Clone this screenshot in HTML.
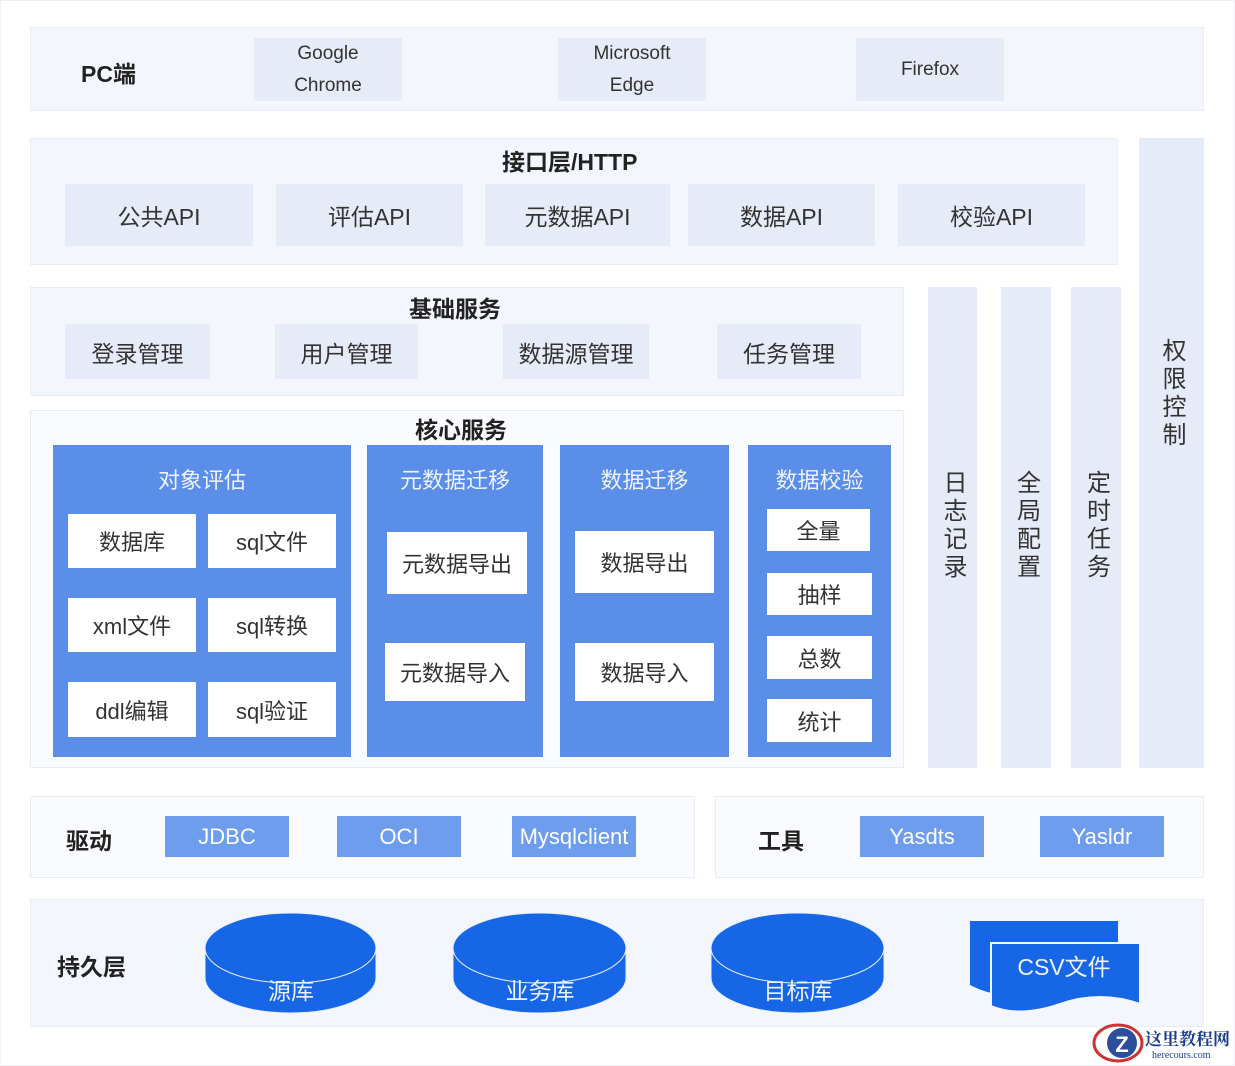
<!DOCTYPE html>
<html><head><meta charset="utf-8">
<style>
body{margin:0;width:1235px;height:1066px;background:#fff;position:relative;overflow:hidden;font-family:"Liberation Sans","Noto Sans CJK SC",sans-serif;color:#333}
.b{position:absolute;display:flex;align-items:center;justify-content:center;text-align:center;box-sizing:border-box}
.sec{background:#f3f6fc;border:1px solid #e8ecf5}
.g{background:#e6ebf8;font-size:23px;color:#333}
.bl{background:#5b8ee8;color:#eef3ff;font-size:22px;align-items:flex-start;padding-top:18px}
.w{background:#fff;font-size:22px;color:#333}
.d{background:#6e9ded;color:#fff;font-size:22px}
.t{position:absolute;font-weight:bold;font-size:23px;color:#222}
.v{writing-mode:vertical-rl;text-orientation:upright;letter-spacing:4px;font-size:24px}
</style></head><body>
<div class="b" style="left:0;top:0;width:1235px;height:1066px;border:1px solid #f0eef3"></div>
<!-- PC -->
<div class="b sec" style="left:30px;top:27px;width:1174px;height:84px"></div>
<div class="t" style="left:81px;top:55px">PC端</div>
<div class="b g" style="left:254px;top:38px;width:148px;height:63px;font-size:19px;line-height:32px">Google<br>Chrome</div>
<div class="b g" style="left:558px;top:38px;width:148px;height:63px;font-size:19px;line-height:32px">Microsoft<br>Edge</div>
<div class="b g" style="left:856px;top:38px;width:148px;height:63px;font-size:19px">Firefox</div>
<!-- interface -->
<div class="b sec" style="left:30px;top:138px;width:1088px;height:127px"></div>
<div class="t" style="left:502px;top:143px">接口层/HTTP</div>
<div class="b g" style="left:65px;top:184px;width:188px;height:62px">公共API</div>
<div class="b g" style="left:276px;top:184px;width:187px;height:62px">评估API</div>
<div class="b g" style="left:485px;top:184px;width:185px;height:62px">元数据API</div>
<div class="b g" style="left:688px;top:184px;width:187px;height:62px">数据API</div>
<div class="b g" style="left:898px;top:184px;width:187px;height:62px">校验API</div>
<!-- right columns -->
<div class="b g" style="left:1139px;top:138px;width:65px;height:630px;align-items:flex-start;padding-top:200px"><span class="v">权限控制</span></div>
<div class="b g" style="left:928px;top:287px;width:49px;height:481px;align-items:flex-start;padding-top:183px"><span class="v">日志记录</span></div>
<div class="b g" style="left:1001px;top:287px;width:50px;height:481px;align-items:flex-start;padding-top:183px"><span class="v">全局配置</span></div>
<div class="b g" style="left:1071px;top:287px;width:50px;height:481px;align-items:flex-start;padding-top:183px"><span class="v">定时任务</span></div>
<!-- base -->
<div class="b sec" style="left:30px;top:287px;width:874px;height:109px"></div>
<div class="t" style="left:409px;top:290px">基础服务</div>
<div class="b g" style="left:65px;top:324px;width:145px;height:55px">登录管理</div>
<div class="b g" style="left:275px;top:324px;width:143px;height:55px">用户管理</div>
<div class="b g" style="left:503px;top:324px;width:146px;height:55px">数据源管理</div>
<div class="b g" style="left:717px;top:324px;width:144px;height:55px">任务管理</div>
<!-- core -->
<div class="b sec" style="left:30px;top:410px;width:874px;height:358px;background:#fafbfe"></div>
<div class="t" style="left:415px;top:411px">核心服务</div>
<div class="b bl" style="left:53px;top:445px;width:298px;height:312px">对象评估</div>
<div class="b w" style="left:68px;top:514px;width:128px;height:54px">数据库</div>
<div class="b w" style="left:208px;top:514px;width:128px;height:54px">sql文件</div>
<div class="b w" style="left:68px;top:598px;width:128px;height:54px">xml文件</div>
<div class="b w" style="left:208px;top:598px;width:128px;height:54px">sql转换</div>
<div class="b w" style="left:68px;top:682px;width:128px;height:55px">ddl编辑</div>
<div class="b w" style="left:208px;top:682px;width:128px;height:55px">sql验证</div>
<div class="b bl" style="left:367px;top:445px;width:176px;height:312px">元数据迁移</div>
<div class="b w" style="left:387px;top:532px;width:140px;height:62px">元数据导出</div>
<div class="b w" style="left:385px;top:643px;width:140px;height:58px">元数据导入</div>
<div class="b bl" style="left:560px;top:445px;width:169px;height:312px">数据迁移</div>
<div class="b w" style="left:575px;top:531px;width:139px;height:62px">数据导出</div>
<div class="b w" style="left:575px;top:643px;width:139px;height:58px">数据导入</div>
<div class="b bl" style="left:748px;top:445px;width:143px;height:312px">数据校验</div>
<div class="b w" style="left:767px;top:509px;width:103px;height:42px">全量</div>
<div class="b w" style="left:767px;top:573px;width:105px;height:42px">抽样</div>
<div class="b w" style="left:767px;top:636px;width:105px;height:43px">总数</div>
<div class="b w" style="left:767px;top:699px;width:105px;height:43px">统计</div>
<!-- drivers -->
<div class="b sec" style="left:30px;top:796px;width:665px;height:82px;background:#fafbfe"></div>
<div class="t" style="left:66px;top:822px">驱动</div>
<div class="b d" style="left:165px;top:816px;width:124px;height:41px">JDBC</div>
<div class="b d" style="left:337px;top:816px;width:124px;height:41px">OCI</div>
<div class="b d" style="left:512px;top:816px;width:124px;height:41px">Mysqlclient</div>
<div class="b sec" style="left:715px;top:796px;width:489px;height:82px;background:#fafbfe"></div>
<div class="t" style="left:758px;top:822px">工具</div>
<div class="b d" style="left:860px;top:816px;width:124px;height:41px">Yasdts</div>
<div class="b d" style="left:1040px;top:816px;width:124px;height:41px">Yasldr</div>
<!-- persistence -->
<div class="b sec" style="left:30px;top:899px;width:1174px;height:128px"></div>
<div class="t" style="left:57px;top:948px">持久层</div>
<svg style="position:absolute;left:0;top:0" width="1235" height="1066">
<g fill="#1766e6" stroke="#e8efff" stroke-width="1">
<path d="M205 948 A85.5 35 0 0 1 376 948 L376 978 A85.5 35 0 0 1 205 978 Z"/>
<path d="M205 948 A85.5 35 0 0 0 376 948" fill="none"/>
<path d="M453 948 A86.5 35 0 0 1 626 948 L626 978 A86.5 35 0 0 1 453 978 Z"/>
<path d="M453 948 A86.5 35 0 0 0 626 948" fill="none"/>
<path d="M711 948 A86.5 35 0 0 1 884 948 L884 978 A86.5 35 0 0 1 711 978 Z"/>
<path d="M711 948 A86.5 35 0 0 0 884 948" fill="none"/>
</g>
<path d="M970 921 L1118 921 L1118 985 Q1080 975 1044 990 Q1005 1003 970 985 Z" fill="#1766e6"/>
<path d="M991 943 L1140 943 L1140 1004 Q1100 990 1060 1004 Q1020 1018 991 1006 Z" fill="#1766e6" stroke="#f3f6fc" stroke-width="2"/>
<g font-family="Liberation Sans, Noto Sans CJK SC, sans-serif" font-size="23" fill="#eef3ff" text-anchor="middle">
<text x="291" y="999">源库</text>
<text x="540" y="999">业务库</text>
<text x="798" y="999">目标库</text>
<text x="1064" y="975">CSV文件</text>
</g>
<g>
<ellipse cx="1118" cy="1043" rx="24" ry="18" fill="none" stroke="#c33" stroke-width="3"/>
<circle cx="1122" cy="1043" r="15" fill="#2b4f9a"/>
<text x="1122" y="1052" font-size="22" font-weight="bold" fill="#fff" text-anchor="middle" font-family="Liberation Sans">Z</text>
<text x="1145" y="1045" font-size="17" font-weight="bold" fill="#1d3f8a" font-family="Noto Serif CJK SC, serif">这里教程网</text>
<text x="1152" y="1058" font-size="10" fill="#1d3f8a" font-family="Liberation Serif, serif">herecours.com</text>
</g>
</svg>
</body></html>
